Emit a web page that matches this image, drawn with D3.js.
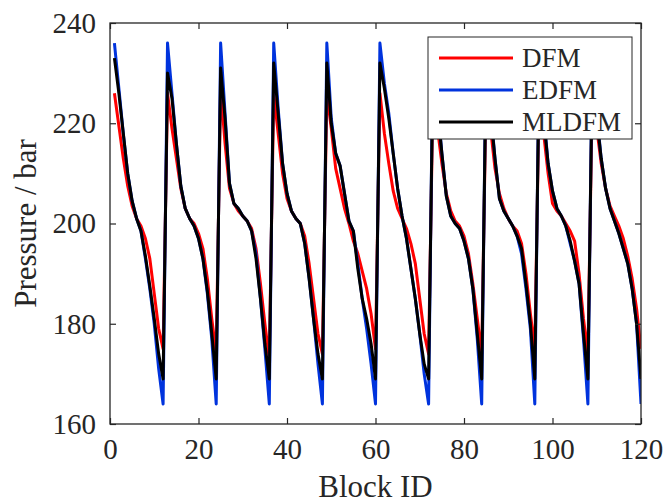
<!DOCTYPE html>
<html lang="en">
<head>
<meta charset="UTF-8">
<title>Pressure / bar</title>
<script src="https://cdn.jsdelivr.net/npm/d3@7/dist/d3.min.js"></script>
<style>
  body { margin: 0; background: #fff; }
</style>
</head>
<body>
<script>
// block ids 1..120, 10 cycles of 12 blocks
const blockIds = d3.range(1, 121);
const xTicks = [0, 20, 40, 60, 80, 100, 120];
const yTicks = [160, 180, 200, 220, 240];
const seriesNames = ['DFM', 'EDFM', 'MLDFM'];

const dfm = [
  226, 219.5, 213, 207.5, 203.5, 201, 199.5, 197, 193, 186, 179, 175,
  226, 219, 213, 207, 203, 201, 200, 198, 195, 189, 181, 174,
  227, 216, 207, 204, 202.5, 201.5, 200.5, 199, 195, 188, 180, 173,
  226, 218, 210, 205, 202.5, 201, 200, 197.5, 192, 185, 178, 174,
  226, 219, 211, 207, 203, 200, 196.5, 194, 190.5, 187, 182, 175,
  226, 218, 212, 206.5, 203, 201, 199, 196, 192, 185, 178, 174,
  226, 219, 212, 206, 202.5, 200.5, 199.5, 197.5, 194, 188, 181, 174,
  226, 219, 211, 206, 203, 201, 199.5, 198.5, 196, 190, 182, 175,
  226, 218, 210, 204, 202.5, 201.5, 200, 198.5, 196.5, 190, 181, 174,
  226, 219, 212, 207, 203.5, 201.5, 199.5, 197, 193.5, 189, 183, 175
];

const edfm = [
  236, 227, 218, 210, 204.5, 201, 198.5, 193, 187, 180, 171, 164,
  236, 226, 216, 207.5, 203, 201, 199.5, 197, 193, 186, 177, 164,
  236, 222, 208, 204, 203, 201.5, 200.5, 198.5, 194, 185, 175, 164,
  236, 223, 212, 206, 202.5, 201, 200, 196, 189, 181, 172, 164,
  236, 221, 214, 211.5, 206, 200.5, 198.5, 192, 185, 179, 172, 164,
  236, 228, 222, 214, 207, 201.5, 197, 191, 185, 178, 170, 164,
  236, 224, 214, 205.5, 201.5, 200, 199, 196.5, 193, 187, 177, 164,
  236, 223, 213, 205, 202.5, 201, 199.5, 197.5, 194, 187, 179, 164,
  236, 222, 212, 206.5, 203, 201.5, 199.5, 196, 192.5, 188, 177, 164,
  236, 222, 213, 207, 203, 200.5, 198, 195, 192, 187, 180, 164
];

const mldfm = [
  233, 226, 218, 210, 204.5, 201, 198.5, 193.5, 187.5, 181, 174, 169,
  230, 225, 216, 207.5, 203, 201, 199.5, 197, 193, 186.5, 178, 169,
  231, 221, 208, 204, 203, 201.5, 200.5, 198.5, 193, 185, 176, 169,
  232, 222, 212, 206, 202.5, 201, 200, 196, 189, 181, 174, 169,
  232, 220, 214, 211.5, 206, 200.5, 198.5, 191, 185, 181, 176, 169,
  232, 227, 221, 214, 207, 201.5, 197, 191, 185, 178, 172, 169,
  232, 223, 214, 205.5, 201.5, 200, 199, 196.5, 193, 187, 178, 169,
  232, 222, 213, 205, 202.5, 201, 199.5, 197.5, 195, 188, 180, 169,
  232, 221, 212, 206.5, 203, 201.5, 199.5, 196.5, 192.5, 188, 178, 169,
  232, 221, 213, 207, 203, 200.5, 198, 195, 192, 187, 180, 169
];

const colors = ['#ff0000', '#0033dd', '#000000'];
const allSeries = [dfm, edfm, mldfm];

const width = 665, height = 504;
const plotLeft = 110, plotRight = 641, plotTop = 23, plotBottom = 424;
const serif = 'Liberation Serif, Times New Roman, Times, DejaVu Serif, serif';
const axisColor = '#262626';

const svg = d3.select('body').append('svg')
  .attr('width', width)
  .attr('height', height)
  .attr('font-family', serif);

const x = d3.scaleLinear().domain([0, 120]).range([plotLeft, plotRight]);
const y = d3.scaleLinear().domain([160, 240]).range([plotBottom, plotTop]);

// clip to plot box
svg.append('clipPath').attr('id', 'clip')
  .append('rect')
  .attr('x', plotLeft).attr('y', plotTop)
  .attr('width', plotRight - plotLeft).attr('height', plotBottom - plotTop);

const line = d3.line()
  .x((d, i) => x(blockIds[i]))
  .y(d => y(d));

svg.append('g').attr('clip-path', 'url(#clip)')
  .selectAll('path')
  .data(allSeries)
  .enter()
  .append('path')
  .attr('d', d => line(d))
  .attr('fill', 'none')
  .attr('stroke', (d, i) => colors[i])
  .attr('stroke-width', 3)
  .attr('stroke-linejoin', 'round');

// axes, ticks inward on all four sides
const tickSize = 6;

const xBottom = d3.axisBottom(x).tickValues(xTicks).tickSizeInner(-tickSize).tickSizeOuter(0).tickPadding(14);
const xTop = d3.axisTop(x).tickValues(xTicks).tickSizeInner(-tickSize).tickSizeOuter(0).tickFormat('');
const yLeft = d3.axisLeft(y).tickValues(yTicks).tickSizeInner(-tickSize).tickSizeOuter(0).tickPadding(14);
const yRight = d3.axisRight(y).tickValues(yTicks).tickSizeInner(-tickSize).tickSizeOuter(0).tickFormat('');

function style(g) {
  g.attr('font-family', serif).attr('font-size', 29);
  g.select('.domain').remove();
  g.selectAll('.tick line').attr('stroke', axisColor).attr('stroke-width', 1.2);
  g.selectAll('.tick text').attr('fill', axisColor);
}

svg.append('g').attr('transform', `translate(0,${plotBottom})`).call(xBottom).call(style);
svg.append('g').attr('transform', `translate(0,${plotTop})`).call(xTop).call(style);
svg.append('g').attr('transform', `translate(${plotLeft},0)`).call(yLeft).call(style);
svg.append('g').attr('transform', `translate(${plotRight},0)`).call(yRight).call(style);

svg.append('rect')
  .attr('x', plotLeft).attr('y', plotTop)
  .attr('width', plotRight - plotLeft).attr('height', plotBottom - plotTop)
  .attr('fill', 'none')
  .attr('stroke', axisColor)
  .attr('stroke-width', 1.3);

// axis titles
svg.append('text')
  .attr('x', (plotLeft + plotRight) / 2)
  .attr('y', 497)
  .attr('text-anchor', 'middle')
  .attr('font-size', 31)
  .attr('fill', axisColor)
  .text('Block ID');

svg.append('text')
  .attr('transform', `translate(36,${(plotTop + plotBottom) / 2}) rotate(-90)`)
  .attr('text-anchor', 'middle')
  .attr('font-size', 31)
  .attr('fill', axisColor)
  .text('Pressure / bar');

// legend
const lg = svg.append('g').attr('transform', 'translate(428,37)');
lg.append('rect')
  .attr('width', 204).attr('height', 102)
  .attr('fill', '#fff')
  .attr('stroke', axisColor)
  .attr('stroke-width', 1);

seriesNames.forEach(function (name, i) {
  const ly = 21 + i * 32;
  lg.append('line')
    .attr('x1', 11).attr('x2', 85)
    .attr('y1', ly).attr('y2', ly)
    .attr('stroke', colors[i])
    .attr('stroke-width', 3);
  lg.append('text')
    .attr('x', 94).attr('y', ly)
    .attr('dy', '0.35em')
    .attr('font-size', 27)
    .attr('fill', axisColor)
    .text(name);
});
</script>
</body>
</html>
